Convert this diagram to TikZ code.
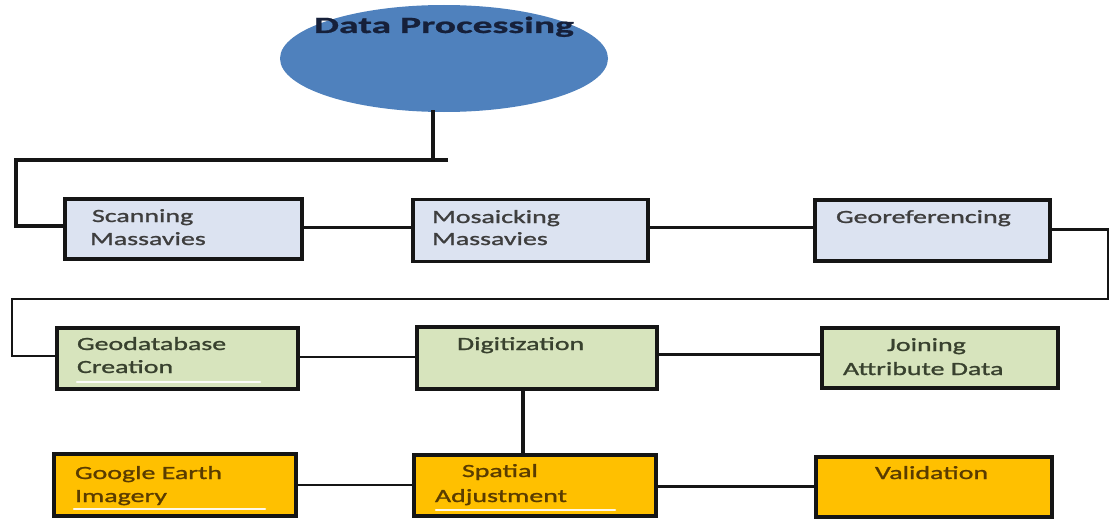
\documentclass[tikz,border=0pt]{standalone}
\usepackage{fontspec}
\setmainfont{Carlito}
\newfontfamily\boxfont{Carlito}[FakeStretch=1.5,FakeBold=1.3]
\newfontfamily\titlefont{Carlito}[FakeStretch=1.7,FakeBold=1.0]
\usetikzlibrary{shapes.geometric}
\definecolor{ellblue}{HTML}{4F81BD}
\definecolor{bluefill}{HTML}{DCE3F1}
\definecolor{greenfill}{HTML}{D7E4BD}
\definecolor{orangefill}{HTML}{FFC000}
\definecolor{graytext}{HTML}{3E3E3E}
\definecolor{greentext}{HTML}{38412E}
\definecolor{browntext}{HTML}{5A3C00}
\definecolor{navytext}{HTML}{16203A}
\definecolor{linecol}{HTML}{151515}
\tikzset{
  box/.style={draw=linecol, line width=3.5pt, rectangle, inner sep=0pt, outer sep=0pt},
  bluebox/.style={box, fill=bluefill},
  greenbox/.style={box, fill=greenfill},
  orangebox/.style={box, fill=orangefill},
  txt/.style={inner sep=0pt, outer sep=0pt, anchor=base west, font=\boxfont\fontsize{18.6}{22}\selectfont},
  bluetxt/.style={txt, text=graytext},
  greentxt/.style={txt, text=greentext},
  orangetxt/.style={txt, text=browntext},
  conn/.style={draw=linecol, line width=2.5pt},
  thickconn/.style={draw=linecol, line width=3.2pt},
  glare/.style={draw=white, line width=2.5pt, line cap=round, opacity=0.9}
}
\begin{document}
\begin{tikzpicture}[x=1pt, y=-1pt]
\useasboundingbox (0,0) rectangle (1110,519);

% title ellipse
\fill[ellblue] (444,58.5) ellipse [x radius=164pt, y radius=53.5pt];
\coordinate (ell-b) at (433,110);
\node[inner sep=0pt, anchor=base, text=navytext, font=\titlefont\bfseries\fontsize{23.3}{26}\selectfont] (ell-t) at (444,33) {Data Processing};

% boxes, row 1
\node[bluebox, minimum width=237pt, minimum height=60pt] (scan) at (183.5,229) {};
\node[bluebox, minimum width=235pt, minimum height=62pt] (mosa) at (530.5,230.5) {};
\node[bluebox, minimum width=235pt, minimum height=61pt] (geor) at (932.5,230.5) {};
% row 2
\node[greenbox, minimum width=241pt, minimum height=61pt] (geod) at (177.5,358.5) {};
\node[greenbox, minimum width=240pt, minimum height=62pt] (digi) at (537,358) {};
\node[greenbox, minimum width=236pt, minimum height=60pt] (join) at (940,358) {};
% row 3
\node[orangebox, minimum width=242pt, minimum height=62pt] (goog) at (175,485) {};
\node[orangebox, minimum width=242pt, minimum height=61pt] (spat) at (535,485.5) {};
\node[orangebox, minimum width=236pt, minimum height=60pt] (vali) at (934,487) {};

% glare lines
\draw[glare] (77,382) -- (260,382);
\draw[glare] (74,509) -- (265,509);
\draw[glare] (436,510) -- (615,510);

% texts
\node[bluetxt] (scan-a) at (92,222) {Scanning};
\node[bluetxt] (scan-b) at (90,245) {Massavies};
\node[bluetxt] (mosa-a) at (432,223) {Mosaicking};
\node[bluetxt] (mosa-b) at (432,245) {Massavies};
\node[bluetxt] (geor-a) at (836,223) {Georeferencing};
\node[greentxt] (geod-a) at (77,350) {Geodatabase};
\node[greentxt] (geod-b) at (77,373) {Creation};
\node[greentxt] (digi-a) at (457,350) {Digitization};
\node[greentxt] (join-a) at (887,351) {Joining};
\node[greentxt] (join-b) at (843,375) {Attribute Data};
\node[orangetxt] (goog-a) at (75,479) {Google Earth};
\node[orangetxt] (goog-b) at (75,502) {Imagery};
\node[orangetxt] (spat-a) at (462,477) {Spatial};
\node[orangetxt] (spat-b) at (435,502) {Adjustment};
\node[orangetxt] (vali-a) at (875,479) {Validation};

% connector coordinates
\coordinate (t1) at (433,160);
\coordinate (t1e) at (448,160);
\coordinate (t1w) at (16,160);
\coordinate (h0) at (0,226);
\coordinate (h1) at (0,227.5);
\coordinate (h2) at (0,229.5);
\coordinate (r1) at (1108,299);
\coordinate (l1) at (12,299);
\coordinate (h3) at (0,356);
\coordinate (h4) at (0,357);
\coordinate (h5) at (0,354.5);
\coordinate (h6) at (0,485);
\coordinate (h7) at (0,486.5);
\coordinate (v2) at (523,0);

% connectors
\draw[thickconn] (ell-b) -- (t1);
\draw[thickconn, line join=miter] (t1e) -- (t1w) |- (scan.west |- h0);
\draw[conn] (scan.east |- h1) -- (mosa.west |- h1);
\draw[conn] (mosa.east |- h1) -- (geor.west |- h1);
\draw[conn, line join=miter] (geor.east |- h2) -| (r1) -- (l1) |- (geod.west |- h3);
\draw[conn] (geod.east |- h4) -- (digi.west |- h4);
\draw[conn] (digi.east |- h5) -- (join.west |- h5);
\draw[thickconn] (digi.south -| v2) -- (spat.north -| v2);
\draw[conn] (goog.east |- h6) -- (spat.west |- h6);
\draw[conn] (spat.east |- h7) -- (vali.west |- h7);
\end{tikzpicture}
\end{document}
